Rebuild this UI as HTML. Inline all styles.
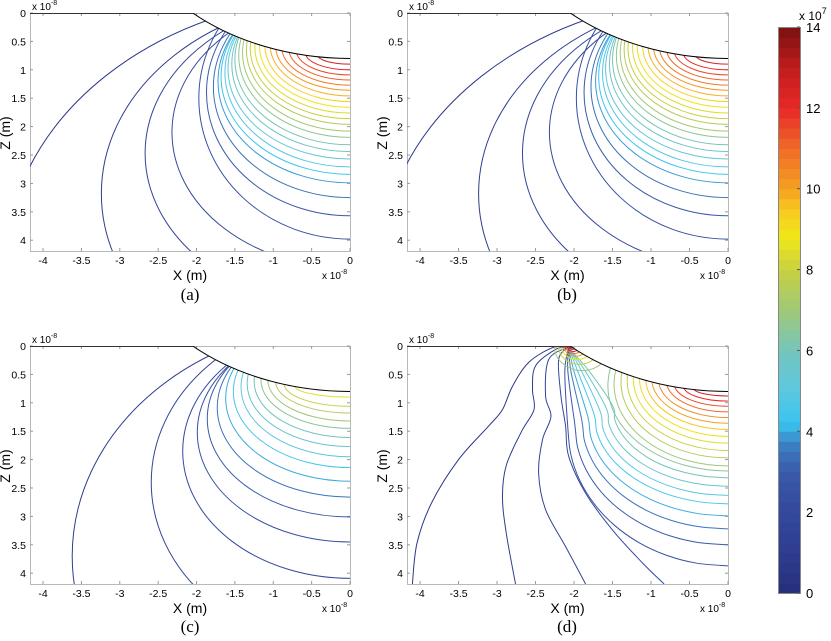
<!DOCTYPE html>
<html><head><meta charset="utf-8">
<style>
html,body{margin:0;padding:0;background:#fff;overflow:hidden;width:831px;height:641px;}
svg{display:block;font-family:"Liberation Sans",Arial,sans-serif;}
</style></head>
<body>
<svg id="fig" width="831" height="641" viewBox="0 0 831 641">
<defs id="defs"></defs>
</svg>
<script>
// ---------- data (values in units of 1e-8 m, levels in 1e7) ----------
const aZ0  = [0.90,1.00,1.09,1.18,1.27,1.36,1.46,1.56,1.66,1.76,1.86,1.96,2.08,2.19,2.32,2.44,2.57,2.71,2.84,2.99,3.25,3.57,3.98,4.49,5.21,6.62,9.30];
const aZc  = [0.74,0.70,0.66,0.62,0.60,0.58,0.57,0.57,0.58,0.60,0.62,0.65,0.70,0.75,0.82,0.90,0.98,1.05,1.12,1.20,1.30,1.40,1.50,2.10,2.47,3.18,4.50];
const aRx  = [0.42,0.58,0.70,0.80,0.89,0.97,1.04,1.11,1.18,1.24,1.30,1.35,1.40,1.45,1.50,1.54,1.59,1.63,1.68,1.72,1.78,1.87,1.97,2.32,2.67,3.24,4.50];
const aLev = [12.5,12.0,11.5,11.1,10.7,10.2,9.8,9.3,8.9,8.4,8.0,7.5,7.1,6.6,6.1,5.7,5.2,4.8,4.3,3.9,3.4,3.0,2.5,2.0,1.6,1.1,0.7];
const bZ0  = [0.90,1.00,1.09,1.18,1.27,1.36,1.46,1.56,1.66,1.76,1.86,1.96,2.08,2.19,2.32,2.44,2.57,2.71,2.84,2.99,3.25,3.57,3.98,4.49,5.21,6.62,9.30];
const bZc  = [0.74,0.70,0.66,0.62,0.60,0.58,0.57,0.57,0.58,0.60,0.62,0.65,0.70,0.75,0.82,0.90,0.98,1.05,1.12,1.20,1.30,1.40,1.50,2.10,2.47,3.18,4.50];
const bRx  = [0.42,0.58,0.70,0.80,0.89,0.97,1.04,1.11,1.18,1.24,1.30,1.35,1.40,1.45,1.50,1.54,1.59,1.63,1.68,1.72,1.78,1.87,1.97,2.32,2.67,3.24,4.52];
const bLev = [12.5,12.0,11.5,11.1,10.7,10.2,9.8,9.3,8.9,8.4,8.0,7.5,7.1,6.6,6.1,5.7,5.2,4.8,4.3,3.9,3.4,3.0,2.5,2.0,1.6,1.1,0.7];
const cZ0  = [0.90,1.06,1.18,1.32,1.45,1.61,1.77,1.95,2.14,2.38,2.66,3.01,3.45,4.09,5.33,7.79];
const cZc  = [0.70,0.66,0.62,0.60,0.60,0.62,0.66,0.72,0.80,0.92,1.08,1.28,1.52,1.85,2.40,3.70];
const cRx  = [0.72,0.86,0.97,1.07,1.16,1.25,1.34,1.42,1.52,1.62,1.73,1.86,1.99,2.18,2.59,3.62];
const cLev = [8.5,8.0,7.5,7.0,6.5,6.0,5.5,5.0,4.5,4.0,3.5,3.0,2.5,2.0,1.5,1.0];
const dZ0  = [0.88,0.97,1.06,1.16,1.26,1.36,1.47,1.59,1.71,1.84,1.97,2.11,2.20];
const dZc  = [0.74,0.70,0.66,0.62,0.60,0.58,0.57,0.57,0.58,0.60,0.63,0.67,0.70];
const dRx  = [0.45,0.58,0.70,0.80,0.90,0.99,1.07,1.15,1.23,1.31,1.39,1.48,1.56];
const dLev = [12.5,12.0,11.5,11.0,10.5,10.0,9.5,9.0,8.5,8.0,7.5,7.0,6.5];
const dPZ0   = [2.32,2.47,2.63,2.78,2.99,3.22,3.50,3.87];
const dPXtop = [-1.80,-1.85,-1.90,-1.95,-2.00,-2.04,-2.08,-2.12];
const dPXmid = [-1.50,-1.58,-1.66,-1.74,-1.82,-1.90,-1.99,-2.08];
const dPZmid = [1.05,1.10,1.15,1.20,1.25,1.30,1.38,1.45];
const dPLev  = [6.0,5.5,5.0,4.5,4.0,3.5,3.0,2.5];
const dOuterX = [
 [-2.08,-2.20,-2.17,-2.11,-2.07,-1.85,-1.50,-1.11,-0.83],
 [-2.08,-2.33,-2.37,-2.30,-2.41,-2.46,-2.37,-2.11,-1.85],
 [-2.08,-2.24,-2.50,-2.54,-2.52,-2.68,-2.88,-2.93,-2.88,-2.76],
 [-2.08,-2.28,-2.59,-2.80,-2.93,-3.11,-3.50,-3.85,-4.04,-4.10]];
const dOuterZ = [
 [0.02,0.24,0.88,1.41,1.94,2.59,3.24,3.82,4.19],
 [0.02,0.24,0.88,1.24,1.65,2.24,2.88,3.53,4.19],
 [0.02,0.06,0.35,0.76,1.12,1.50,2.10,2.65,3.30,4.19],
 [0.02,0.03,0.29,0.71,1.12,1.41,2.00,2.76,3.47,4.19]];
const dOuterLev = [2.0,1.5,1.0,0.5];
const dSpotR   = [0.03,0.05,0.08,0.11,0.15,0.20,0.27,0.36];
const dSpotLev = [13.5,13.0,12.0,11.0,10.0,9.0,8.0,7.0];
const xTicks = [-4,-3.5,-3,-2.5,-2,-1.5,-1,-0.5,0];
const xTickLabels = ["-4","-3.5","-3","-2.5","-2","-1.5","-1","-0.5","0"];
const zTicks = [0,0.5,1,1.5,2,2.5,3,3.5,4];
const zTickLabels = ["0","0.5","1","1.5","2","2.5","3","3.5","4"];
const cbTicks = [0,2,4,6,8,10,12,14];
const cbTickLabels = ["0","2","4","6","8","10","12","14"];
const cmapV = [0,1,2,3,3.7,4.2,5,6,7,8,8.8,9.5,10,11,12,13,14];
const cmapC = ["#262e7a","#2e3d8f","#34489d","#3a5aa8","#3c80c4","#38c4f0","#5cc8e0","#74c4bc","#a0c878","#c8d040","#f0e818","#f8c820","#f4a020","#f06a28","#e82828","#c01c1c","#7a1010"];
function hex(h){return [parseInt(h.substr(1,2),16),parseInt(h.substr(3,2),16),parseInt(h.substr(5,2),16)];}
function cmap(v){
  if(v<=cmapV[0])return cmapC[0];
  for(let i=1;i<cmapV.length;i++){ if(v<=cmapV[i]){const t=(v-cmapV[i-1])/(cmapV[i]-cmapV[i-1]);const a=hex(cmapC[i-1]),b=hex(cmapC[i]);return "rgb("+a.map((x,k)=>Math.round(x+(b[k]-x)*t)).join(",")+")";}}
  return cmapC[cmapC.length-1];
}
const NS="http://www.w3.org/2000/svg";
const svg=document.getElementById('fig');
const defs=document.getElementById('defs');
function mk(tag,attrs,parent){const e=document.createElementNS(NS,tag);for(const k in attrs)e.setAttribute(k,attrs[k]);(parent||svg).appendChild(e);return e;}
const XMIN=-4.17, ZMAX=4.19, TIPC=-2.225, TIPR=3.025, TIPX=-2.05;

function panel(id,L,R,T,B){
  const g=mk('g',{});
  
  
  const sx=(R-L)/(0-XMIN), sz=(B-T)/ZMAX;
  const xs=x=>R+x*sx, zs=z=>T+z*sz;
  const m=mk('mask',{id:'m'+id,maskUnits:'userSpaceOnUse',x:0,y:0,width:831,height:641},defs);
  mk('rect',{x:L,y:T,width:R-L,height:B-T,fill:'#fff'},m);
  mk('ellipse',{cx:xs(0),cy:zs(TIPC),rx:TIPR*sx,ry:TIPR*sz,fill:'#000'},m);
  const cp=mk('clipPath',{id:'c'+id},defs);
  mk('rect',{x:L,y:T,width:R-L,height:B-T},cp);
  const box=mk('rect',{x:L+0.5,y:T+0.5,width:R-L,height:B-T,fill:'#fff',stroke:'#b8b8b8','stroke-width':1},g);
  
  
  xTicks.forEach((v,i)=>{
    const x=xs(v);
    mk('line',{x1:x,y1:B,x2:x,y2:B-3,stroke:'#999'},g);
    mk('line',{x1:x,y1:T,x2:x,y2:T+3,stroke:'#999'},g);
    const t=mk('text',{x:x,y:B+13,'font-size':10.5,'text-anchor':'middle',fill:'#000'},g);
    t.textContent=xTickLabels[i];
    
    
  });
  zTicks.forEach((v,i)=>{
    const y=zs(v);
    mk('line',{x1:L,y1:y,x2:L+3,y2:y,stroke:'#999'},g);
    mk('line',{x1:R,y1:y,x2:R-3,y2:y,stroke:'#999'},g);
    const t=mk('text',{x:L-4,y:y+4,'font-size':10.5,'text-anchor':'end',fill:'#000'},g);
    t.textContent=zTickLabels[i];
    
    
  });
  const cg=mk('g',{mask:'url(#m'+id+')'},g);
  
  
  return {g,cg,xs,zs,sx,sz,L,R,T,B,id};
}
function ell(P,z0,zc,rx,lev){
  const e=mk('ellipse',{cx:P.xs(0),cy:P.zs(zc),rx:rx*P.sx,ry:(z0-zc)*P.sz,fill:'none',stroke:cmap(lev),'stroke-width':1},P.cg);
  
  
}
function curve(P,X,Z,lev){
  const pts=X.map((x,i)=>[P.xs(x),P.zs(Z[i])]);
  let d='M'+pts[0][0]+','+pts[0][1];
  for(let i=0;i<pts.length-1;i++){
    const p0=pts[Math.max(i-1,0)],p1=pts[i],p2=pts[i+1],p3=pts[Math.min(i+2,pts.length-1)];
    const c1=[p1[0]+(p2[0]-p0[0])/6,p1[1]+(p2[1]-p0[1])/6];
    const c2=[p2[0]-(p3[0]-p1[0])/6,p2[1]-(p3[1]-p1[1])/6];
    d+=' C'+c1.join(',')+' '+c2.join(',')+' '+p2.join(',');
  }
  const p=mk('path',{d:d,fill:'none',stroke:cmap(lev),'stroke-width':1},P.cg);
  
  
}
function finish(P,label,lx,ly){
  const g=P.g,xs=P.xs,zs=P.zs;
  const tg=mk('g',{'clip-path':'url(#c'+P.id+')'},g);
  const te=mk('ellipse',{cx:xs(0),cy:zs(TIPC),rx:TIPR*P.sx,ry:TIPR*P.sz,fill:'none',stroke:'#000','stroke-width':1},tg);
  
  
  mk('line',{x1:P.L,y1:P.T+0.5,x2:xs(TIPX),y2:P.T+0.5,stroke:'#333','stroke-width':1},g);
  const m1=mk('text',{x:P.L+2,y:P.T-3,'font-size':10,fill:'#000'},g);
  m1.innerHTML='x 10<tspan dy="-5" font-size="7">-8</tspan>';
  
  
  const m2=mk('text',{x:P.R-28,y:P.B+28,'font-size':10,fill:'#000'},g);
  m2.innerHTML='x 10<tspan dy="-5" font-size="7">-8</tspan>';
  
  
  const xl=mk('text',{x:(P.L+P.R)/2,y:P.B+29,'font-size':14,'text-anchor':'middle',fill:'#000'},g);
  xl.textContent='X (m)';
  
  
  const zl=mk('text',{x:0,y:0,'font-size':14,'text-anchor':'middle',fill:'#000',transform:'translate('+(P.L-20)+','+(P.T+120)+') rotate(-90)'},g);
  zl.textContent='Z (m)';
  
  
  const pl=mk('text',{x:lx,y:ly,'font-size':17,'text-anchor':'middle',fill:'#000','font-family':'"Liberation Serif",serif'},g);
  pl.textContent=label;
  
  
}
const PA=panel('a',30,350,13,251);
aZ0.forEach((z,i)=>ell(PA,z,aZc[i],aRx[i],aLev[i]));
finish(PA,'(a)',190,300);
const PB=panel('b',407,728,13,251);
bZ0.forEach((z,i)=>ell(PB,z,bZc[i],bRx[i],bLev[i]));
finish(PB,'(b)',567,300);
const PC=panel('c',30,350,346,584);
cZ0.forEach((z,i)=>ell(PC,z,cZc[i],cRx[i],cLev[i]));
finish(PC,'(c)',190,632);
const PD=panel('d',407,728,346,584);
dZ0.forEach((z,i)=>ell(PD,z,dZc[i],dRx[i],dLev[i]));
dPZ0.forEach((z0,i)=>{
  const X=[-2.07,dPXtop[i]], Z=[0.03,0.45];
  const rx=-dPXmid[i], rz=z0-dPZmid[i];
  for(let k=0;k<=8;k++){const a=Math.PI/2*k/8;X.push(-rx*Math.cos(a));Z.push(dPZmid[i]+rz*Math.sin(a));}
  curve(PD,X,Z,dPLev[i]);
});
dOuterX.forEach((X,i)=>curve(PD,X,dOuterZ[i],dOuterLev[i]));
dSpotR.forEach((r,i)=>{
  const e=mk('ellipse',{cx:PD.xs(-2.04+r*0.4),cy:PD.zs(0),rx:r*PD.sx,ry:r*PD.sz*1.2,fill:'none',stroke:cmap(dSpotLev[i]),'stroke-width':1},PD.cg);
  
  
});
finish(PD,'(d)',567,632);
const CB={L:778,R:800,T:27,B:593,max:14};
const cbs=v=>CB.B-(v/CB.max)*(CB.B-CB.T);
const cbg=mk('g',{});


for(let v=0;v<CB.max;v+=0.25){
  mk('rect',{x:CB.L,y:cbs(v+0.25),width:CB.R-CB.L,height:cbs(v)-cbs(v+0.25)+0.5,fill:cmap(v+0.125)},cbg);
}
mk('rect',{x:CB.L+0.5,y:CB.T+0.5,width:CB.R-CB.L,height:CB.B-CB.T,fill:'none',stroke:'#888'},cbg);
cbTicks.forEach((v,i)=>{
  mk('line',{x1:CB.R,y1:cbs(v),x2:CB.R-3,y2:cbs(v),stroke:'#555'},cbg);
  const t=mk('text',{x:CB.R+6,y:cbs(v)+5,'font-size':13,fill:'#000'},cbg);
  t.textContent=cbTickLabels[i];
  
  
});
const cm=mk('text',{x:799,y:20,'font-size':12,fill:'#000'},cbg);
cm.innerHTML='x 10<tspan dy="-6" font-size="9">7</tspan>';


</script>
</body></html>
